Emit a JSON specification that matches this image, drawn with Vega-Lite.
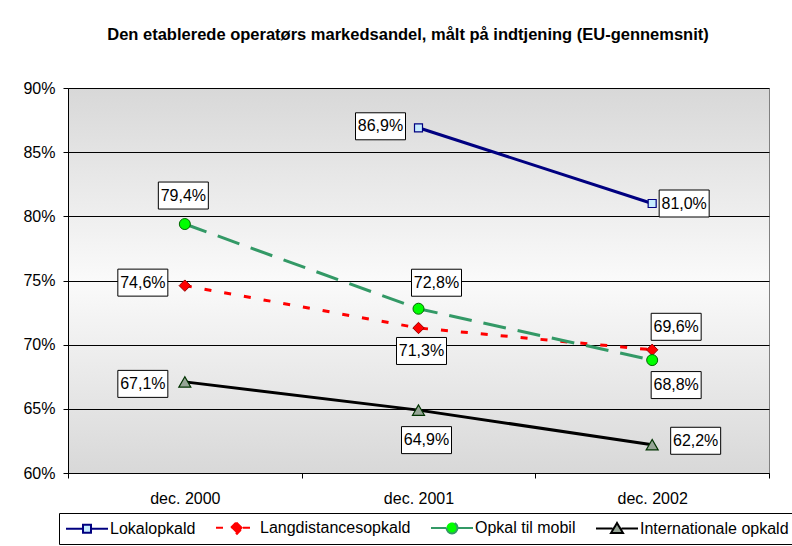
{
  "$schema": "https://vega.github.io/schema/vega-lite/v6.json",
  "width": 701,
  "height": 385,
  "autosize": {"type": "none"},
  "padding": {"left": 68, "top": 88, "right": 23, "bottom": 73},
  "background": "white",
  "title": {
    "text": "Den etablerede operatørs markedsandel, målt på indtjening (EU-gennemsnit)",
    "font": "Liberation Sans", "fontSize": 16.5, "fontWeight": "bold", "color": "black",
    "anchor": "middle", "frame": "group", "dx": -10.5, "offset": 24, "baseline": "alphabetic"
  },
  "data": {
    "values": [
      {"series": "Lokalopkald", "date": "dec. 2001", "value": 0.869},
      {"series": "Lokalopkald", "date": "dec. 2002", "value": 0.810},
      {"series": "Langdistancesopkald", "date": "dec. 2000", "value": 0.746},
      {"series": "Langdistancesopkald", "date": "dec. 2001", "value": 0.713},
      {"series": "Langdistancesopkald", "date": "dec. 2002", "value": 0.696},
      {"series": "Opkal til mobil", "date": "dec. 2000", "value": 0.794},
      {"series": "Opkal til mobil", "date": "dec. 2001", "value": 0.728},
      {"series": "Opkal til mobil", "date": "dec. 2002", "value": 0.688},
      {"series": "Internationale opkald", "date": "dec. 2000", "value": 0.671},
      {"series": "Internationale opkald", "date": "dec. 2001", "value": 0.649},
      {"series": "Internationale opkald", "date": "dec. 2002", "value": 0.622}
    ]
  },
  "encoding": {
    "x": {
      "field": "date", "type": "ordinal", "bandPosition": 0.5,
      "scale": {"type": "band", "domain": ["dec. 2000", "dec. 2001", "dec. 2002"], "paddingInner": 0, "paddingOuter": 0},
      "axis": {"title": null, "labelAngle": 0, "tickBand": "extent", "tickSize": 5, "tickColor": "#000000", "domainColor": "#000000", "labelPadding": 12, "labelFont": "Liberation Sans", "labelFontSize": 16, "labelColor": "#000000", "grid": false}
    },
    "y": {
      "field": "value", "type": "quantitative",
      "scale": {"domain": [0.6, 0.9], "nice": false, "zero": false},
      "axis": {"title": null, "values": [0.6, 0.65, 0.7, 0.75, 0.8, 0.85, 0.9], "format": ".0%", "grid": true, "gridColor": "#000000", "gridWidth": 1, "gridOpacity": 1, "domainColor": "#000000", "tickColor": "#000000", "tickSize": 5, "labelPadding": 8, "labelFont": "Liberation Sans", "labelFontSize": 16, "labelColor": "#000000"}
    }
  },
  "layer": [
    {"transform": [{"filter": "datum.series == 'Lokalopkald'"}], "mark": {"type": "line", "color": "#000080", "strokeWidth": 3}},
    {"transform": [{"filter": "datum.series == 'Langdistancesopkald'"}], "mark": {"type": "line", "color": "#ff0000", "strokeWidth": 3, "strokeDash": [7, 13]}},
    {"transform": [{"filter": "datum.series == 'Opkal til mobil'"}], "mark": {"type": "line", "color": "#339966", "strokeWidth": 3, "strokeDash": [23, 12]}},
    {"transform": [{"filter": "datum.series == 'Internationale opkald'"}], "mark": {"type": "line", "color": "#000000", "strokeWidth": 3}},
    {"transform": [{"filter": "datum.series == 'Lokalopkald'"}], "mark": {"type": "point", "shape": "square", "size": 64, "filled": true, "fill": "#c6ecff", "stroke": "#000080", "strokeWidth": 1.2, "opacity": 1}},
    {"transform": [{"filter": "datum.series == 'Langdistancesopkald'"}], "mark": {"type": "point", "shape": "diamond", "size": 130, "filled": true, "fill": "#ff0000", "stroke": "#990000", "strokeWidth": 1, "opacity": 1}},
    {"transform": [{"filter": "datum.series == 'Opkal til mobil'"}], "mark": {"type": "point", "shape": "circle", "size": 121, "filled": true, "fill": "#00ff00", "stroke": "#006600", "strokeWidth": 1, "opacity": 1}},
    {"transform": [{"filter": "datum.series == 'Internationale opkald'"}], "mark": {"type": "point", "shape": "triangle-up", "size": 144, "filled": true, "fill": "#96a596", "stroke": "#003300", "strokeWidth": 1.2, "opacity": 1}},

    {"transform": [{"filter": "datum.series == 'Lokalopkald' && datum.date == 'dec. 2001'"}], "layer": [
      {"mark": {"type": "point", "shape": "M-1,-0.54H1V0.54H-1Z", "size": 2500, "filled": true, "fill": "white", "stroke": "black", "strokeWidth": 1, "opacity": 1, "xOffset": -38, "yOffset": -1.5}},
      {"mark": {"type": "text", "font": "Liberation Sans", "fontSize": 16, "color": "black", "xOffset": -38, "yOffset": -1.5}, "encoding": {"text": {"field": "value", "type": "quantitative", "format": ".1%"}}}
    ]},
    {"transform": [{"filter": "datum.series == 'Lokalopkald' && datum.date == 'dec. 2002'"}], "layer": [
      {"mark": {"type": "point", "shape": "M-1,-0.54H1V0.54H-1Z", "size": 2500, "filled": true, "fill": "white", "stroke": "black", "strokeWidth": 1, "opacity": 1, "xOffset": 32, "yOffset": 0}},
      {"mark": {"type": "text", "font": "Liberation Sans", "fontSize": 16, "color": "black", "xOffset": 32, "yOffset": 0}, "encoding": {"text": {"field": "value", "type": "quantitative", "format": ".1%"}}}
    ]},
    {"transform": [{"filter": "datum.series == 'Opkal til mobil' && datum.date == 'dec. 2000'"}], "layer": [
      {"mark": {"type": "point", "shape": "M-1,-0.54H1V0.54H-1Z", "size": 2500, "filled": true, "fill": "white", "stroke": "black", "strokeWidth": 1, "opacity": 1, "xOffset": -1.5, "yOffset": -28.5}},
      {"mark": {"type": "text", "font": "Liberation Sans", "fontSize": 16, "color": "black", "xOffset": -1.5, "yOffset": -28.5}, "encoding": {"text": {"field": "value", "type": "quantitative", "format": ".1%"}}}
    ]},
    {"transform": [{"filter": "datum.series == 'Langdistancesopkald' && datum.date == 'dec. 2000'"}], "layer": [
      {"mark": {"type": "point", "shape": "M-1,-0.54H1V0.54H-1Z", "size": 2500, "filled": true, "fill": "white", "stroke": "black", "strokeWidth": 1, "opacity": 1, "xOffset": -42, "yOffset": -3}},
      {"mark": {"type": "text", "font": "Liberation Sans", "fontSize": 16, "color": "black", "xOffset": -42, "yOffset": -3}, "encoding": {"text": {"field": "value", "type": "quantitative", "format": ".1%"}}}
    ]},
    {"transform": [{"filter": "datum.series == 'Opkal til mobil' && datum.date == 'dec. 2001'"}], "layer": [
      {"mark": {"type": "point", "shape": "M-1,-0.54H1V0.54H-1Z", "size": 2500, "filled": true, "fill": "white", "stroke": "black", "strokeWidth": 1, "opacity": 1, "xOffset": 18, "yOffset": -26}},
      {"mark": {"type": "text", "font": "Liberation Sans", "fontSize": 16, "color": "black", "xOffset": 18, "yOffset": -26}, "encoding": {"text": {"field": "value", "type": "quantitative", "format": ".1%"}}}
    ]},
    {"transform": [{"filter": "datum.series == 'Langdistancesopkald' && datum.date == 'dec. 2001'"}], "layer": [
      {"mark": {"type": "point", "shape": "M-1,-0.54H1V0.54H-1Z", "size": 2500, "filled": true, "fill": "white", "stroke": "black", "strokeWidth": 1, "opacity": 1, "xOffset": 3, "yOffset": 23}},
      {"mark": {"type": "text", "font": "Liberation Sans", "fontSize": 16, "color": "black", "xOffset": 3, "yOffset": 23}, "encoding": {"text": {"field": "value", "type": "quantitative", "format": ".1%"}}}
    ]},
    {"transform": [{"filter": "datum.series == 'Langdistancesopkald' && datum.date == 'dec. 2002'"}], "layer": [
      {"mark": {"type": "point", "shape": "M-1,-0.54H1V0.54H-1Z", "size": 2500, "filled": true, "fill": "white", "stroke": "black", "strokeWidth": 1, "opacity": 1, "xOffset": 24, "yOffset": -23}},
      {"mark": {"type": "text", "font": "Liberation Sans", "fontSize": 16, "color": "black", "xOffset": 24, "yOffset": -23}, "encoding": {"text": {"field": "value", "type": "quantitative", "format": ".1%"}}}
    ]},
    {"transform": [{"filter": "datum.series == 'Opkal til mobil' && datum.date == 'dec. 2002'"}], "layer": [
      {"mark": {"type": "point", "shape": "M-1,-0.54H1V0.54H-1Z", "size": 2500, "filled": true, "fill": "white", "stroke": "black", "strokeWidth": 1, "opacity": 1, "xOffset": 24, "yOffset": 25}},
      {"mark": {"type": "text", "font": "Liberation Sans", "fontSize": 16, "color": "black", "xOffset": 24, "yOffset": 25}, "encoding": {"text": {"field": "value", "type": "quantitative", "format": ".1%"}}}
    ]},
    {"transform": [{"filter": "datum.series == 'Internationale opkald' && datum.date == 'dec. 2000'"}], "layer": [
      {"mark": {"type": "point", "shape": "M-1,-0.54H1V0.54H-1Z", "size": 2500, "filled": true, "fill": "white", "stroke": "black", "strokeWidth": 1, "opacity": 1, "xOffset": -42, "yOffset": 2}},
      {"mark": {"type": "text", "font": "Liberation Sans", "fontSize": 16, "color": "black", "xOffset": -42, "yOffset": 2}, "encoding": {"text": {"field": "value", "type": "quantitative", "format": ".1%"}}}
    ]},
    {"transform": [{"filter": "datum.series == 'Internationale opkald' && datum.date == 'dec. 2001'"}], "layer": [
      {"mark": {"type": "point", "shape": "M-1,-0.54H1V0.54H-1Z", "size": 2500, "filled": true, "fill": "white", "stroke": "black", "strokeWidth": 1, "opacity": 1, "xOffset": 8, "yOffset": 30}},
      {"mark": {"type": "text", "font": "Liberation Sans", "fontSize": 16, "color": "black", "xOffset": 8, "yOffset": 30}, "encoding": {"text": {"field": "value", "type": "quantitative", "format": ".1%"}}}
    ]},
    {"transform": [{"filter": "datum.series == 'Internationale opkald' && datum.date == 'dec. 2002'"}], "layer": [
      {"mark": {"type": "point", "shape": "M-1,-0.54H1V0.54H-1Z", "size": 2500, "filled": true, "fill": "white", "stroke": "black", "strokeWidth": 1, "opacity": 1, "xOffset": 43.5, "yOffset": -4}},
      {"mark": {"type": "text", "font": "Liberation Sans", "fontSize": 16, "color": "black", "xOffset": 43.5, "yOffset": -4}, "encoding": {"text": {"field": "value", "type": "quantitative", "format": ".1%"}}}
    ]},

    {
      "transform": [{"filter": "false"}],
      "mark": {"type": "point", "filled": true, "opacity": 1},
      "encoding": {
        "stroke": {"field": "series", "type": "nominal", "legend": {"title": null},
          "scale": {"domain": ["Lokalopkald", "Langdistancesopkald", "Opkal til mobil", "Internationale opkald"], "range": ["#000080", "#ff0000", "#339966", "#000000"]}},
        "strokeDash": {"field": "series", "type": "nominal", "legend": {"title": null},
          "scale": {"domain": ["Lokalopkald", "Langdistancesopkald", "Opkal til mobil", "Internationale opkald"], "range": [[1, 0], [7, 13], [23, 12], [1, 0]]}},
        "fill": {"field": "series", "type": "nominal", "legend": {"title": null},
          "scale": {"domain": ["Lokalopkald", "Langdistancesopkald", "Opkal til mobil", "Internationale opkald"], "range": ["#c6ecff", "#ff0000", "#00ff00", "#96a596"]}},
        "shape": {"field": "series", "type": "nominal", "legend": {"title": null},
          "scale": {"domain": ["Lokalopkald", "Langdistancesopkald", "Opkal til mobil", "Internationale opkald"], "range": [
            "M-1,0H1.27M2.33,0H4.6M1.27,-0.53H2.33V0.53H1.27Z",
            "M-1,0H1M2.6,0H4.6M1,0L1.8,-0.8L2.6,0L1.8,0.8Z",
            "M-1,0H1.07M2.53,0H4.6M1.07,0A0.73,0.73 0 1,0 2.53,0A0.73,0.73 0 1,0 1.07,0Z",
            "M-1,0H1.2M2.4,0H4.6M1,0.6L1.8,-0.73L2.6,0.6Z"
          ]}}
      }
    }
  ],
  "config": {
    "locale": {"number": {"decimal": ",", "thousands": ".", "grouping": [3], "currency": ["", " kr."]}},
    "view": {
      "fill": {"gradient": "linear", "x1": 0, "y1": 0, "x2": 0, "y2": 1, "stops": [
        {"offset": 0, "color": "#d8d8d8"}, {"offset": 0.5, "color": "#fafafa"}, {"offset": 1, "color": "#d8d8d8"}]},
      "stroke": "#808080"
    },
    "legend": {
      "orient": "none", "legendX": -9, "legendY": 425, "direction": "horizontal", "columns": 4,
      "labelFont": "Liberation Sans", "labelFontSize": 16, "labelColor": "#000000",
      "symbolSize": 225, "symbolStrokeWidth": 2, "labelOffset": 28, "columnPadding": 16,
      "padding": 6, "strokeColor": "#000000", "fillColor": "#ffffff", "symbolOpacity": 1
    }
  }
}
